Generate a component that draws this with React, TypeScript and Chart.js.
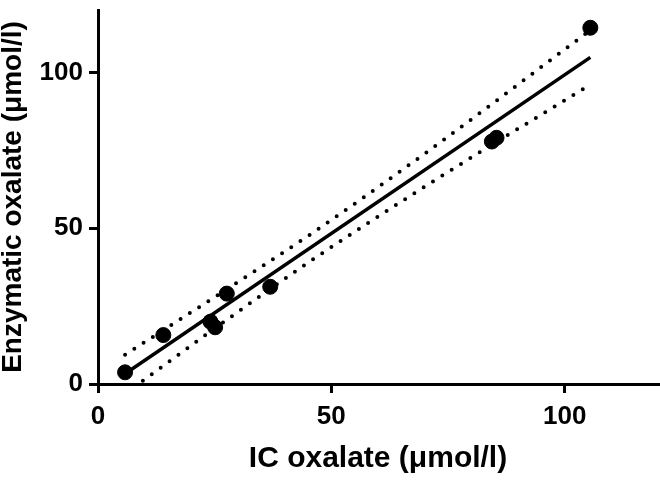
import React, { useEffect, useRef } from "react";
import { Chart, registerables } from "chart.js";

Chart.register(...registerables);

// Measured samples
const icOxalate = [5.8, 14.0, 24.1, 25.1, 27.6, 36.9, 84.4, 85.4, 105.5];
const enzymaticOxalate = [3.75, 15.7, 20.0, 18.2, 29.0, 31.2, 77.8, 79.0, 114.3];

// Regression line (ends)
const fitX = [5.8, 105.5];
const fitY = [3.3, 104.8];

// Confidence band
const bandX = [5.8, 25, 45, 70, 105.5];
const upperBand = [9.4, 27.9, 47.5, 73.9, 113.5];
const lowerBand = [-3.1, 17.8, 38.9, 63.3, 96.1];

const xTicks = [0, 50, 100];
const yTicks = [0, 50, 100];
const axisMax = 120;

const xTitle = "IC oxalate (\u03bcmol/l)";
const yTitle = "Enzymatic oxalate (\u03bcmol/l)";

const FONT = "'Liberation Sans', Arial, Helvetica, sans-serif";

const zeroPad = (s: any) => {
  s.paddingTop = 0;
  s.paddingBottom = 0;
  s.paddingLeft = 0;
  s.paddingRight = 0;
};

export default function App() {
  const ref = useRef<HTMLCanvasElement | null>(null);

  useEffect(() => {
    if (!ref.current) return;
    const pts = icOxalate.map((x, i) => ({ x, y: enzymaticOxalate[i] }));
    const fit = fitX.map((x, i) => ({ x, y: fitY[i] }));
    const up = bandX.map((x, i) => ({ x, y: upperBand[i] }));
    const lo = bandX.map((x, i) => ({ x, y: lowerBand[i] }));

    const dotted = {
      showLine: true,
      borderColor: "#000",
      borderWidth: 4,
      borderDash: [0, 11],
      borderCapStyle: "round" as const,
      pointRadius: 0,
      tension: 0.4,
      cubicInterpolationMode: "monotone" as const,
      fill: false,
    };

    const chart = new Chart(ref.current, {
      type: "scatter",
      data: {
        datasets: [
          { label: "upper", data: up, ...dotted },
          { label: "lower", data: lo, ...dotted },
          {
            label: "fit",
            data: fit,
            showLine: true,
            borderColor: "#000",
            borderWidth: 3.5,
            pointRadius: 0,
            fill: false,
          },
          {
            label: "data",
            data: pts,
            backgroundColor: "#000",
            borderColor: "#000",
            pointRadius: 7.5,
            pointHoverRadius: 7.5,
            clip: false,
          },
        ],
      },
      options: {
        responsive: false,
        animation: false,
        events: [],
        layout: { autoPadding: false, padding: { top: 10, right: 2, left: 0, bottom: 0 } },
        plugins: { legend: { display: false }, tooltip: { enabled: false } },
        scales: {
          x: {
            type: "linear",
            min: 0,
            max: axisMax,
            afterFit: (s: any) => {
              s.height = 97;
              zeroPad(s);
            },
            afterBuildTicks: (s: any) => {
              s.ticks = xTicks.map((v) => ({ value: v }));
            },
            ticks: {
              includeBounds: false,
              color: "#000",
              padding: 8,
              maxRotation: 0,
              font: { family: FONT, size: 26, weight: "bold" },
            },
            grid: {
              drawOnChartArea: false,
              drawTicks: true,
              tickLength: 9,
              lineWidth: 3,
              color: "#000",
            },
            border: { display: true, width: 3, color: "#000" },
            title: {
              display: true,
              text: xTitle,
              color: "#000",
              font: { family: FONT, size: 30, weight: "bold", lineHeight: 1 },
              padding: { top: 0, bottom: 7 },
            },
          },
          y: {
            type: "linear",
            min: 0,
            max: axisMax,
            afterFit: (s: any) => {
              s.width = 98;
              zeroPad(s);
            },
            afterBuildTicks: (s: any) => {
              s.ticks = yTicks.map((v) => ({ value: v }));
            },
            ticks: {
              includeBounds: false,
              color: "#000",
              padding: 6,
              font: { family: FONT, size: 26, weight: "bold" },
            },
            grid: {
              drawOnChartArea: false,
              drawTicks: true,
              tickLength: 9,
              lineWidth: 3,
              color: "#000",
            },
            border: { display: true, width: 3, color: "#000" },
            title: {
              display: true,
              text: yTitle,
              color: "#000",
              font: { family: FONT, size: 28, weight: "bold", lineHeight: 1 },
              padding: { top: -1, bottom: 0 },
            },
          },
        },
      },
    });
    return () => chart.destroy();
  }, []);

  return (
    <div style={{ position: "absolute", left: 0, top: 0, width: 660, height: 481, background: "#fff" }}>
      <canvas ref={ref} width={660} height={481} style={{ display: "block" }} />
    </div>
  );
}
